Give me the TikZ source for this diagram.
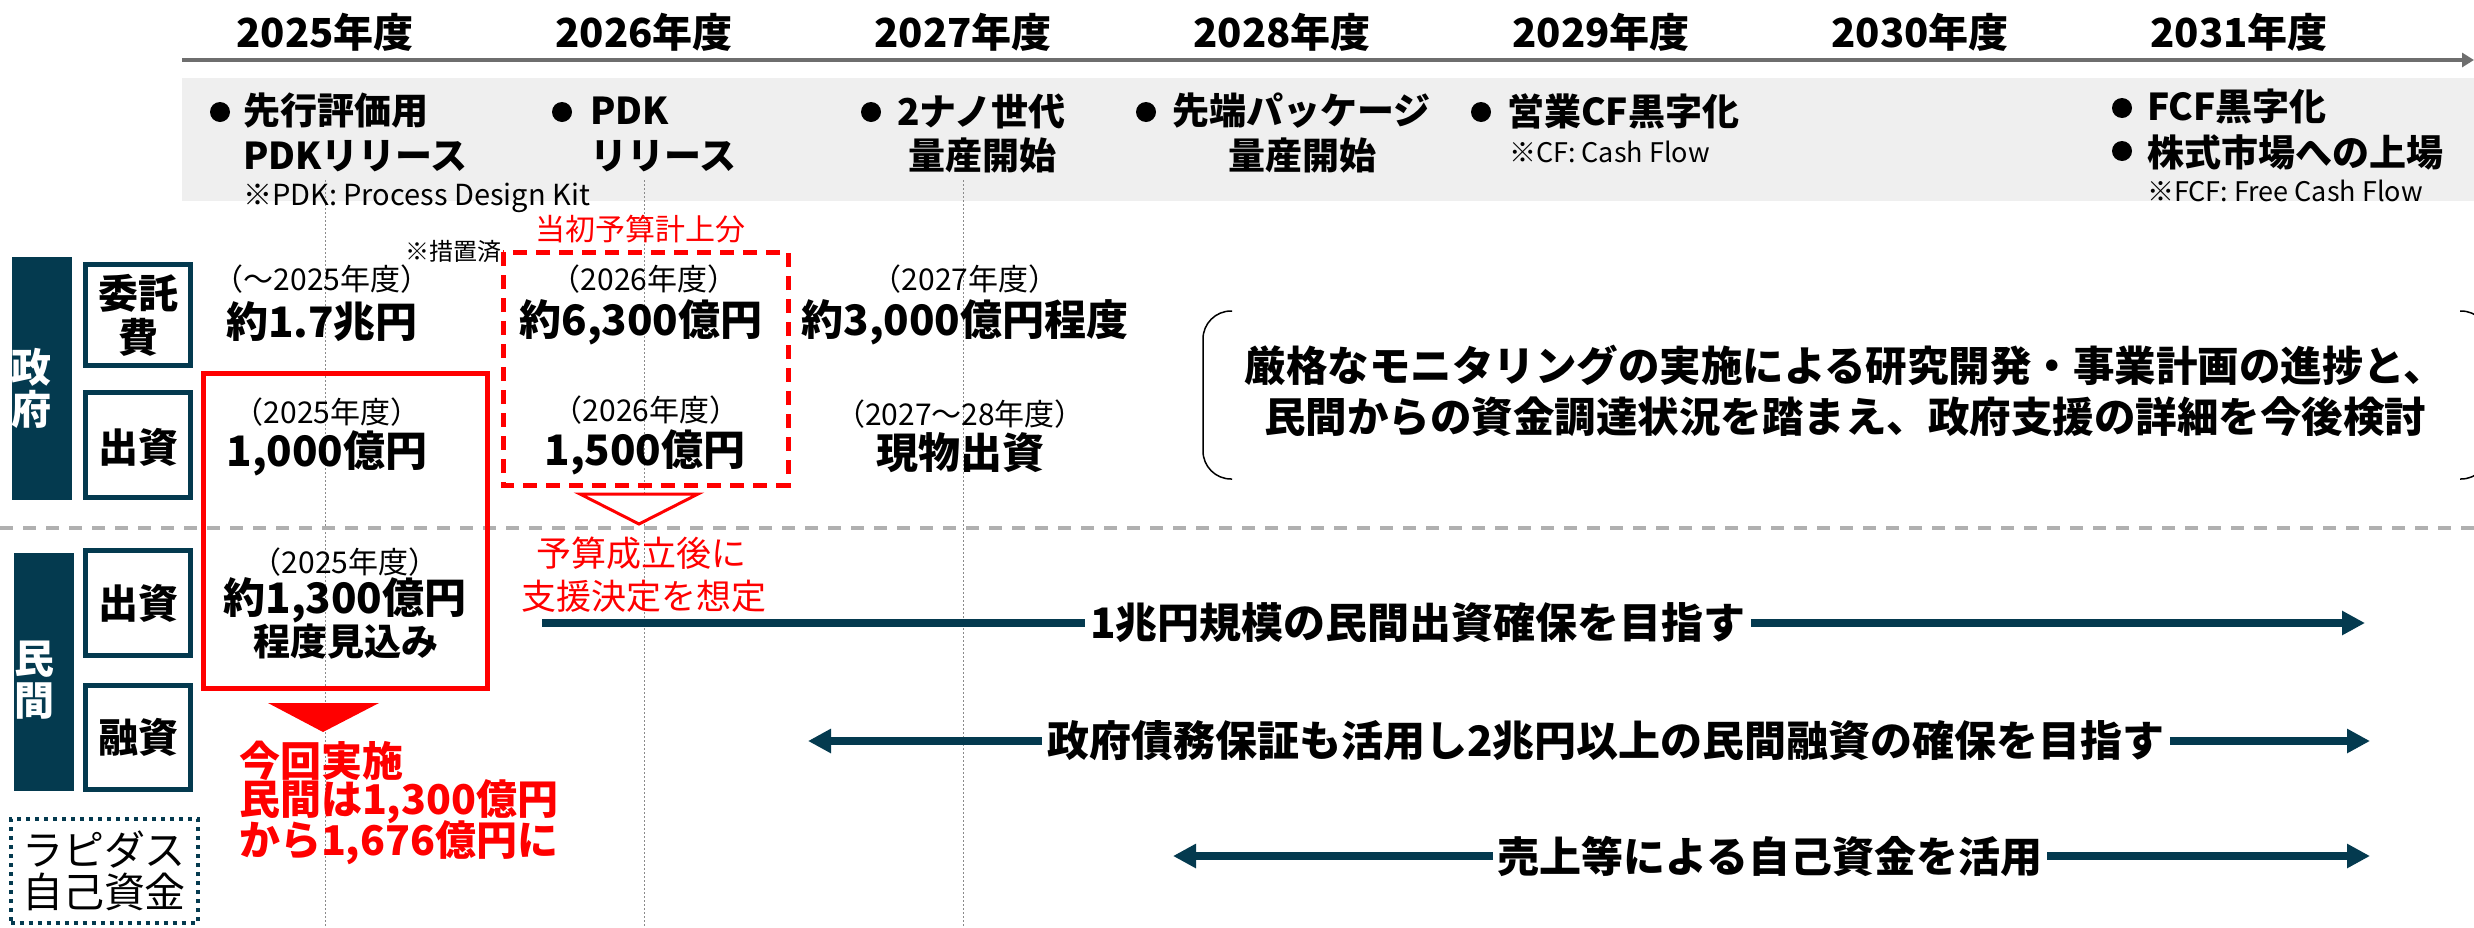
\documentclass[tikz,border=0pt]{standalone}
\usepackage{fontspec}
\setmainfont{Noto Sans CJK JP}
\usetikzlibrary{arrows.meta}
\definecolor{navy}{HTML}{043A4F}
\definecolor{bandgray}{HTML}{EFEFEF}
\definecolor{tlgray}{HTML}{6E6E6E}
\definecolor{sepgray}{HTML}{B0B0B0}
\definecolor{vgray}{HTML}{8A8A8A}
\definecolor{myred}{HTML}{FF0000}
\newcommand{\fsz}[2]{\fontsize{#1}{#2}\selectfont}
\begin{document}
\begin{tikzpicture}[x=1pt,y=-1pt,
  every node/.style={inner sep=0pt, outer sep=0pt},
  yearlbl/.style={font=\fsz{40}{40}\bfseries},
  mstext/.style={font=\fsz{37}{37}\bfseries, anchor=west},
  mscenter/.style={font=\fsz{37}{37}\bfseries},
  msnote/.style={font=\fsz{27}{27}, anchor=west},
  bulletdot/.style={circle, fill=black, minimum size=20pt},
  catbar/.style={fill=navy, draw=none},
  catbox/.style={draw=navy, line width=5pt, fill=white, minimum width=105pt},
  cattext/.style={font=\fsz{40}{44}\bfseries, align=center},
  bartext/.style={font=\fsz{40}{42}\bfseries, text=white, align=center},
  yearparen/.style={font=\fsz{30}{30}},
  amount/.style={font=\fsz{42}{42}\bfseries},
  rednote/.style={font=\fsz{30}{30}, text=myred},
  redsmall/.style={font=\fsz{35}{35}, text=myred},
  redbig/.style={font=\fsz{41}{41}\bfseries, text=myred, anchor=west},
  flowtext/.style={font=\fsz{42}{42}\bfseries, inner xsep=5pt},
  flowline/.style={draw=navy, line width=8pt},
  flowarrow/.style={draw=navy, line width=8pt, -{Triangle[length=23pt,width=23pt]}},
  monitor/.style={font=\fsz{41.5}{41.5}\bfseries},
]
\useasboundingbox (0,0) rectangle (2474,927);
\begin{scope}
\clip (0,0) rectangle (2474,927);

% gray band and timeline
\fill[bandgray] (182,78) rectangle (2474,201);
\coordinate (tl0) at (182,60);
\coordinate (tl1) at (2474,60);
\draw[tlgray, line width=4pt, -{Triangle[length=12pt,width=14pt]}] (tl0) -- (tl1);

% vertical dotted guide lines
\foreach \xx in {325,644,963}{
  \draw[vgray, line width=1pt, dash pattern=on 2pt off 2pt] (\xx,180) -- (\xx,927);
}

% separator
\draw[sepgray, line width=4pt, dash pattern=on 13pt off 10pt] (0,528) -- (2474,528);

% year labels
\node[yearlbl] (y25) at (325,32) {2025年度};
\node[yearlbl] (y26) at (644,32) {2026年度};
\node[yearlbl] (y27) at (963,32) {2027年度};
\node[yearlbl] (y28) at (1282,32) {2028年度};
\node[yearlbl] (y29) at (1601,32) {2029年度};
\node[yearlbl] (y30) at (1920,32) {2030年度};
\node[yearlbl] (y31) at (2239,32) {2031年度};

% milestones
\node[bulletdot] (b1) at (220,112) {};
\node[mstext] (m1a) at (243,111) {先行評価用};
\node[mstext] (m1b) at (243,156) {PDKリリース};
\node[msnote, font=\fsz{29}{29}] (n1) at (243,198) {※PDK: Process Design Kit};

\node[bulletdot] (b2) at (562,112) {};
\node[mstext] (m2a) at (590,111) {PDK};
\node[mstext] (m2b) at (590,156) {リリース};

\node[bulletdot] (b3) at (871,112) {};
\node[mstext] (m3a) at (897,111) {2ナノ世代};
\node[mscenter] (m3b) at (982,156) {量産開始};

\node[bulletdot] (b4) at (1146,112) {};
\node[mstext] (m4a) at (1172,111) {先端パッケージ};
\node[mscenter] (m4b) at (1302,156) {量産開始};

\node[bulletdot] (b5) at (1481,112) {};
\node[mstext] (m5a) at (1507,111) {営業CF黒字化};
\node[msnote] (n5) at (1509,152) {※CF: Cash Flow};

\node[bulletdot] (b6) at (2122,108) {};
\node[mstext] (m6a) at (2147,107) {FCF黒字化};
\node[bulletdot] (b7) at (2122,151) {};
\node[mstext] (m6b) at (2147,152) {株式市場への上場};
\node[msnote] (n6) at (2147,191) {※FCF: Free Cash Flow};

% category bars and boxes
\node[catbar, minimum width=60pt, minimum height=243pt] (gov) at (42,378.5) {};
\node[bartext] (govt) at (32,388) {政\\府};
\node[catbar, minimum width=60pt, minimum height=238pt] (pri) at (44,672) {};
\node[bartext] (prit) at (34,680) {民\\間};

\node[catbox, minimum height=101pt] (itaku) at (138,315) {};
\node[cattext] (itakut) at (138,315) {委託\\費};
\node[catbox, minimum height=105pt] (gshu) at (138,445) {};
\node[cattext] (gshut) at (138,447) {出資};
\node[catbox, minimum height=105pt] (pshu) at (138,603) {};
\node[cattext] (pshut) at (138,603) {出資};
\node[catbox, minimum height=104pt] (yuu) at (138,737.5) {};
\node[cattext] (yuut) at (138,737) {融資};

\node[draw=navy, line width=4pt, dash pattern=on 4pt off 5pt, minimum width=187pt, minimum height=104pt] (rap) at (104,871) {};
\node[font=\fsz{41}{42}, align=center] (rapt) at (104,871) {ラピダス\\自己資金};

% government amounts
\node[yearparen] (p1) at (322,279) {（～2025年度）};
\node[amount] (a1) at (322,322) {約1.7兆円};
\node[font=\fsz{24}{24}] (sochi) at (453,251) {※措置済};
\node[rednote] (tosho) at (640,229) {当初予算計上分};
\draw[myred, line width=5pt, dash pattern=on 14pt off 9pt] (503,252) rectangle (788,485);
\node[yearparen] (p2) at (644,279) {（2026年度）};
\node[amount] (a2) at (641,322) {約6,300億円};
\node[yearparen] (p3) at (965,279) {（2027年度）};
\node[amount] (a3) at (965,322) {約3,000億円程度};

\node[draw=myred, line width=5pt, minimum width=284pt, minimum height=315pt] (redbox) at (345,530.5) {};
\node[yearparen] (p4) at (327,412) {（2025年度）};
\node[amount] (a4) at (327,453) {1,000億円};
\node[yearparen] (p5) at (646,410) {（2026年度）};
\node[amount] (a5) at (645,452) {1,500億円};
\node[yearparen] (p6) at (960,414) {（2027～28年度）};
\node[amount] (a6) at (960,453) {現物出資};

\draw[myred, line width=3pt, fill=white] (580,494) -- (698,494) -- (639,524) -- cycle;

% monitoring bracket
\draw[black, line width=1.5pt, rounded corners=28pt] (1232,311) -- (1203,311) -- (1203,479) -- (1232,479);
\draw[black, line width=1.5pt, rounded corners=28pt] (2460,311) -- (2489,311) -- (2489,479) -- (2460,479);
\node[monitor] (mon1) at (1845,365) {厳格なモニタリングの実施による研究開発・事業計画の進捗と、};
\node[monitor] (mon2) at (1845,417) {民間からの資金調達状況を踏まえ、政府支援の詳細を今後検討};

% private amounts
\node[yearparen] (p7) at (345,562) {（2025年度）};
\node[amount] (a7) at (345,600) {約1,300億円};
\node[font=\fsz{37}{37}\bfseries] (a7b) at (346,642) {程度見込み};
\node[redsmall] (r1) at (641,553) {予算成立後に};
\node[redsmall] (r2) at (644,596) {支援決定を想定};

\fill[myred] (268,703) -- (379,703) -- (323,732) -- cycle;
\node[redbig] (c1) at (239,761) {今回実施};
\node[redbig] (c2) at (239,802) {民間は1,300億円};
\node[redbig] (c3) at (239,843) {から1,676億円に};

% flow arrows
\coordinate (f1s) at (542,623);
\node[flowtext] (f1t) at (1418,623) {1兆円規模の民間出資確保を目指す};
\coordinate (f1e) at (2365,623);
\draw[flowline] (f1s) -- (f1t.west);
\draw[flowarrow] (f1t.east) -- (f1e);

\coordinate (f2s) at (808,741);
\node[flowtext] (f2t) at (1606,741) {政府債務保証も活用し2兆円以上の民間融資の確保を目指す};
\coordinate (f2e) at (2370,741);
\draw[flowarrow] (f2t.west) -- (f2s);
\draw[flowarrow] (f2t.east) -- (f2e);

\coordinate (f3s) at (1173,856);
\node[flowtext] (f3t) at (1770,856) {売上等による自己資金を活用};
\coordinate (f3e) at (2370,856);
\draw[flowarrow] (f3t.west) -- (f3s);
\draw[flowarrow] (f3t.east) -- (f3e);
\end{scope}
\end{tikzpicture}
\end{document}
